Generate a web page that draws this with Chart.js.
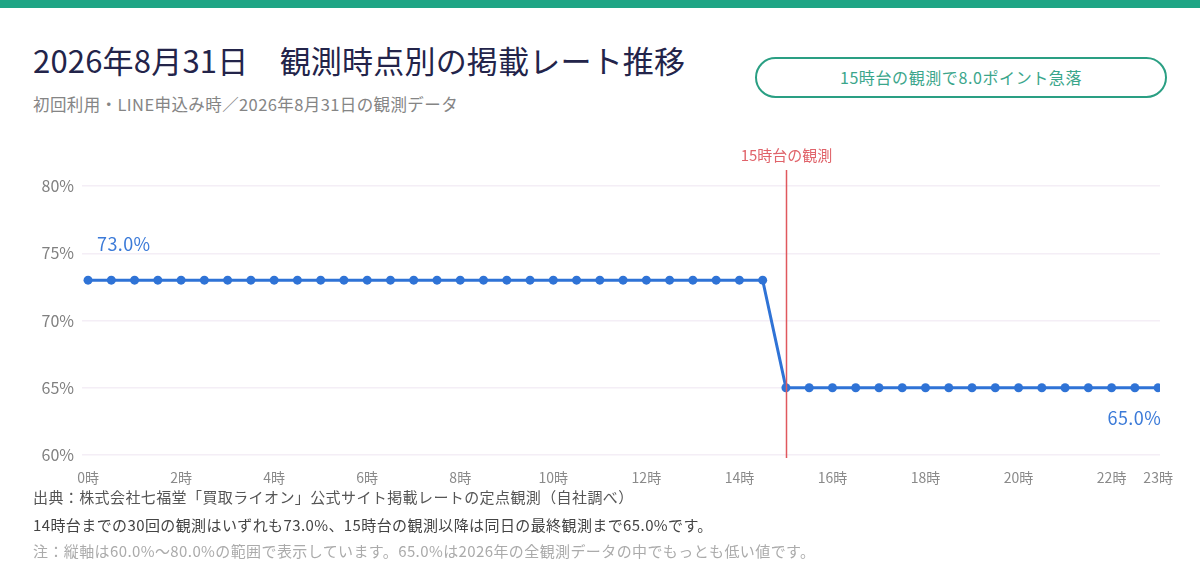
<!DOCTYPE html>
<html lang="ja">
<head>
<meta charset="utf-8">
<script src="https://cdn.jsdelivr.net/npm/chart.js@4.4.1/dist/chart.umd.min.js"></script>
<style>
  html, body { margin:0; padding:0; background:#ffffff; }
  body { width:1200px; height:586px; position:relative; overflow:hidden;
         font-family:"Noto Sans CJK JP","Noto Sans",sans-serif; }
  .topbar { position:absolute; left:0; top:0; width:1200px; height:8px; background:#1fa585; }
  .title { position:absolute; left:33px; top:42px; font-size:31px; line-height:36px; letter-spacing:0.2px; color:#23244a; white-space:nowrap; }
  .subtitle { position:absolute; left:33px; top:93px; font-size:16.5px; line-height:22px; letter-spacing:0.4px; color:#858585; white-space:nowrap; }
  .badge { position:absolute; left:755px; top:57px; width:408px; height:37px; border:2px solid #2a9f83;
           border-radius:22px; box-sizing:content-box; text-align:center; line-height:37px;
           font-size:16px; letter-spacing:0.6px; color:#3ba68b; white-space:nowrap; }
  #wrap { position:absolute; left:0; top:140px; width:1200px; height:350px; }
  .foot { position:absolute; left:33px; font-size:15px; line-height:20px; letter-spacing:0.4px; white-space:nowrap; }
</style>
</head>
<body>
<div class="topbar"></div>
<div class="title">2026年8月31日　観測時点別の掲載レート推移</div>
<div class="subtitle">初回利用・LINE申込み時／2026年8月31日の観測データ</div>
<div class="badge">15時台の観測で8.0ポイント急落</div>
<div id="wrap"><canvas id="c" width="1200" height="350"></canvas></div>
<div class="foot" style="top:487px;color:#555555;">出典：株式会社七福堂「買取ライオン」公式サイト掲載レートの定点観測（自社調べ）</div>
<div class="foot" style="top:515px;color:#444444;">14時台までの30回の観測はいずれも73.0%、15時台の観測以降は同日の最終観測まで65.0%です。</div>
<div class="foot" style="top:541px;color:#ababab;">注：縦軸は60.0%〜80.0%の範囲で表示しています。65.0%は2026年の全観測データの中でもっとも低い値です。</div>
<script>
// observation times (hours)
const times = [0,0.5,1,1.5,2,2.5,3,3.5,4,4.5,5,5.5,6,6.5,7,7.5,8,8.5,9,9.5,10,10.5,11,11.5,12,12.5,13,13.5,14,14.5,
               15,15.5,16,16.5,17,17.5,18,18.5,19,19.5,20,20.5,21,21.5,22,22.5,23];
// listed rate (%)
const rates = [73,73,73,73,73,73,73,73,73,73,73,73,73,73,73,73,73,73,73,73,73,73,73,73,73,73,73,73,73,73,
               65,65,65,65,65,65,65,65,65,65,65,65,65,65,65,65,65];
const xTickHours = [0,2,4,6,8,10,12,14,16,18,20,22,23];
const yTicks = [60,65,70,75,80];
const eventHour = 15;
const eventLabel = '15時台の観測';
const firstLabel = '73.0%';
const lastLabel = '65.0%';

const FONT = '"Noto Sans CJK JP","Noto Sans",sans-serif';

const overlay = {
  id: 'overlay',
  afterDatasetsDraw(chart) {
    const {ctx, scales:{x}, chartArea} = chart;
    const ex = Math.round(x.getPixelForValue(eventHour)) + 0.5;
    ctx.save();
    ctx.strokeStyle = '#e0585e';
    ctx.lineWidth = 1.5;
    ctx.beginPath();
    ctx.moveTo(ex, 30);
    ctx.lineTo(ex, chartArea.bottom + 3);
    ctx.stroke();
    ctx.fillStyle = '#e0636a';
    ctx.font = '15px ' + FONT;
    ctx.textAlign = 'center';
    ctx.textBaseline = 'middle';
    ctx.fillText(eventLabel, ex, 15);

    const meta = chart.getDatasetMeta(0);
    const p0 = meta.data[0];
    const pN = meta.data[meta.data.length - 1];
    ctx.fillStyle = '#3b7ad8';
    ctx.font = '18px ' + FONT;
    ctx.letterSpacing = '0.4px';
    ctx.textAlign = 'left';
    ctx.fillText(firstLabel, p0.x + 9, p0.y - 36);
    ctx.textAlign = 'right';
    ctx.fillText(lastLabel, pN.x + 3, pN.y + 30);
    ctx.restore();
  }
};

new Chart(document.getElementById('c'), {
  type: 'line',
  data: {
    datasets: [{
      data: times.map((t, i) => ({x: t, y: rates[i]})),
      borderColor: '#2f73d6',
      backgroundColor: '#2f73d6',
      borderWidth: 3,
      pointRadius: 4.5,
      pointBackgroundColor: '#2f73d6',
      pointBorderWidth: 0,
      tension: 0,
      fill: false
    }]
  },
  options: {
    responsive: false,
    animation: false,
    devicePixelRatio: 1,
    layout: { padding: { left: 0, right: 40, top: 46, bottom: 0 } },
    plugins: { legend: { display: false }, tooltip: { enabled: false } },
    scales: {
      x: {
        type: 'linear',
        min: -0.13,
        max: 23.04,
        afterBuildTicks: (s) => { s.ticks = xTickHours.map(v => ({value: v})); },
        afterFit: (s) => { s.height = 35; },
        grid: { display: false, drawTicks: false },
        border: { display: false },
        ticks: {
          autoSkip: false, maxRotation: 0, padding: 14,
          color: '#8a8a8a', font: { family: FONT, size: 14 },
          callback: (v) => v + '時'
        }
      },
      y: {
        min: 60, max: 80,
        afterBuildTicks: (s) => { s.ticks = yTicks.map(v => ({value: v})); },
        afterFit: (s) => { s.width = 82; },
        grid: { color: '#f4eef6', lineWidth: 1.5, drawTicks: false },
        border: { display: false },
        ticks: {
          padding: 8, color: '#808080', font: { family: FONT, size: 16 },
          callback: (v) => v + '%'
        }
      }
    }
  },
  plugins: [overlay]
});
</script>
</body>
</html>
